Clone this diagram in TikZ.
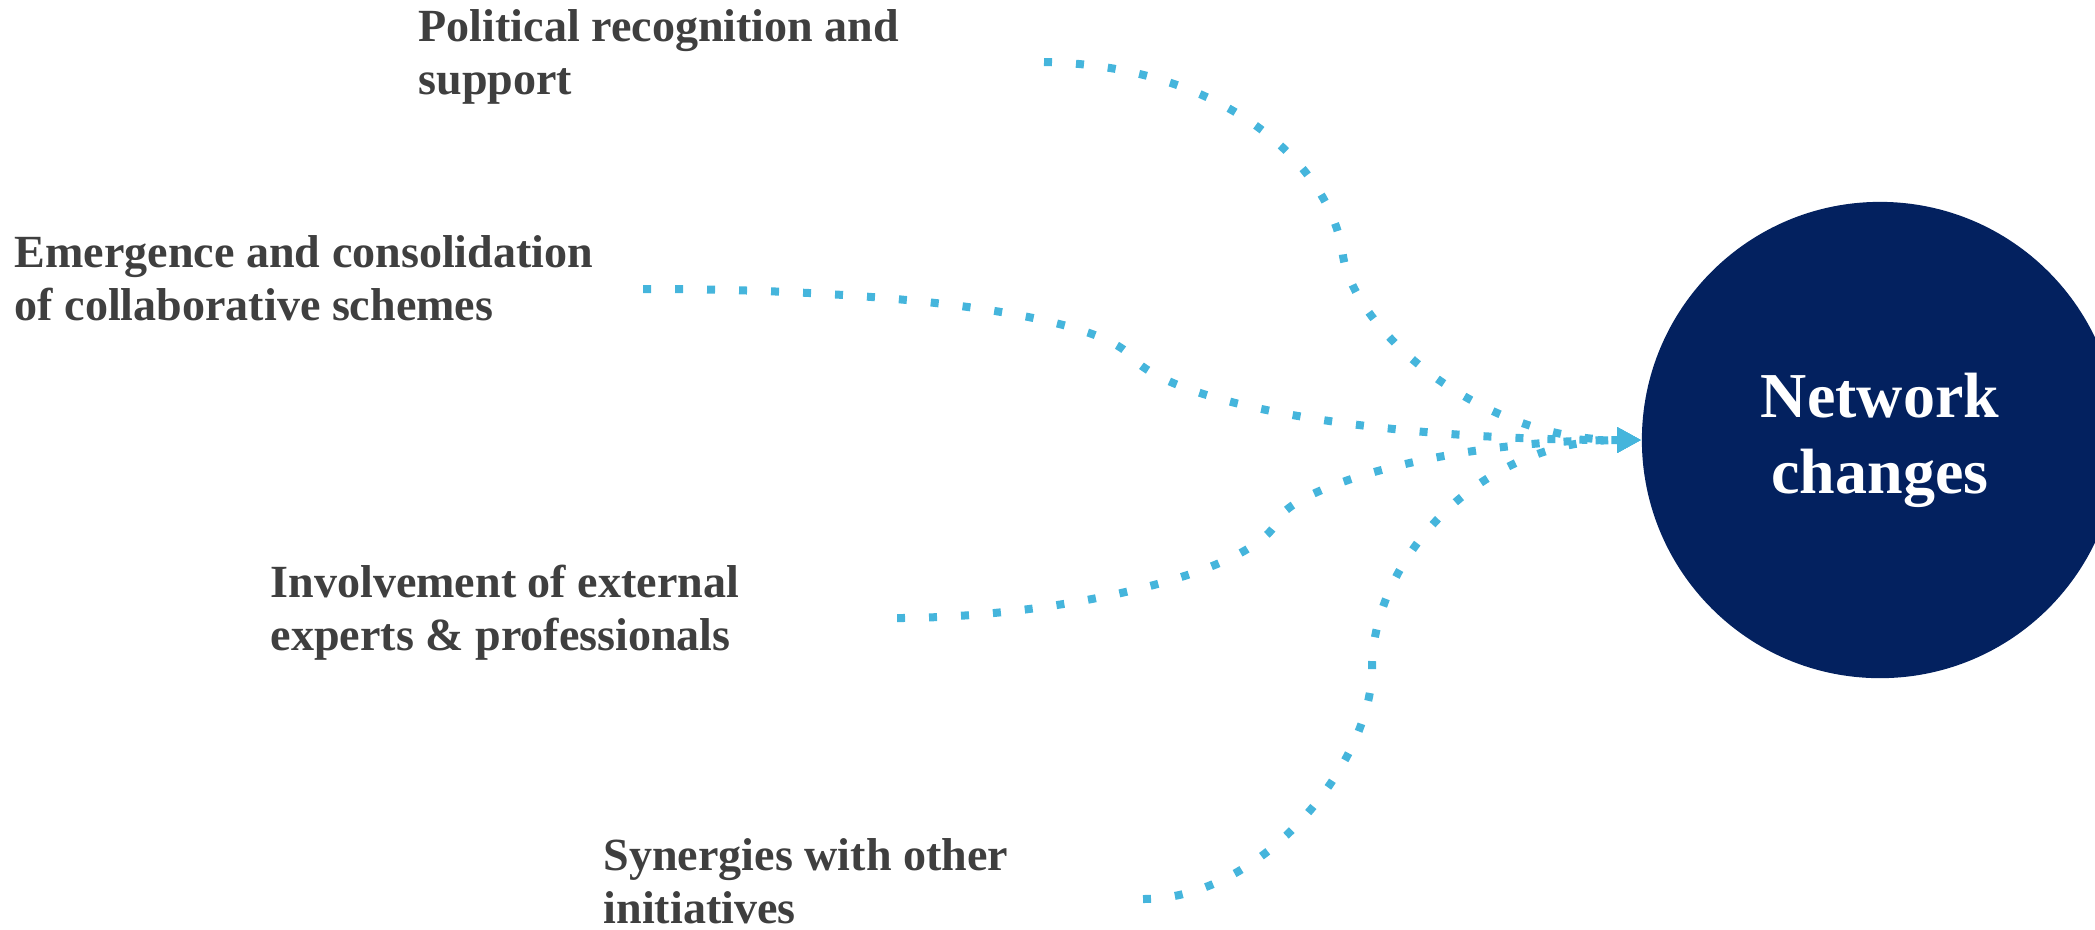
\documentclass[tikz,border=0pt]{standalone}
\usepackage{fontspec}
\setmainfont{Liberation Serif}
\usetikzlibrary{arrows.meta}
\definecolor{navy}{HTML}{03215F}
\definecolor{sky}{HTML}{45B5DC}
\definecolor{labelgray}{HTML}{3F3F3F}
\begin{document}
\begin{tikzpicture}[x=0.01cm,y=-0.01cm,
  lbl/.style={anchor=base west, inner sep=0pt, align=left, text=labelgray,
    font=\fontsize{13.1}{14.8}\selectfont\bfseries},
  flow/.style={draw=sky, line width=0.08cm, dash pattern=on 0.08cm off 0.24cm,
    -{Triangle[length=0.24cm,width=0.24cm]}},
  hub/.style={circle, fill=navy, minimum size=4.76cm, inner sep=0pt, text=white,
    align=center, font=\fontsize{18.2}{21.6}\selectfont\bfseries}]
\useasboundingbox (0,0) rectangle (2095,929);
\node[hub] (circ) at (1880,440) {Network\\changes};
\node[lbl] (l1) at (418,94) {Political recognition and\\support};
\node[lbl] (l2) at (14,320) {Emergence and consolidation\\of collaborative schemes};
\node[lbl] (l3) at (270,650) {Involvement of external\\experts \& professionals};
\node[lbl] (l4) at (603,923) {Synergies with other\\initiatives};
\coordinate (s1) at (1044,62);
\coordinate (m1) at (1343,256);
\coordinate (s2) at (643,289);
\coordinate (m2) at (1130,355);
\coordinate (s3) at (897,618);
\coordinate (m3) at (1278,520);
\coordinate (s4) at (1143,899);
\coordinate (m4) at (1372,669);
\draw[flow] (s1) .. controls +(186,4) and +(-10,-86) .. (m1)
  .. controls +(12,74) and +(-162,0) .. (circ.west);
\draw[flow] (s2) .. controls +(257,0) and +(-40,-40) .. (m2)
  .. controls +(40,50) and +(-262,0) .. (circ.west);
\draw[flow] (s3) .. controls +(153,0) and +(-25,55) .. (m3)
  .. controls +(15,-33) and +(-192,0) .. (circ.west);
\draw[flow] (s4) .. controls +(122,0) and +(0,91) .. (m4)
  .. controls +(0,-109) and +(-162,0) .. (circ.west);
\end{tikzpicture}
\end{document}
